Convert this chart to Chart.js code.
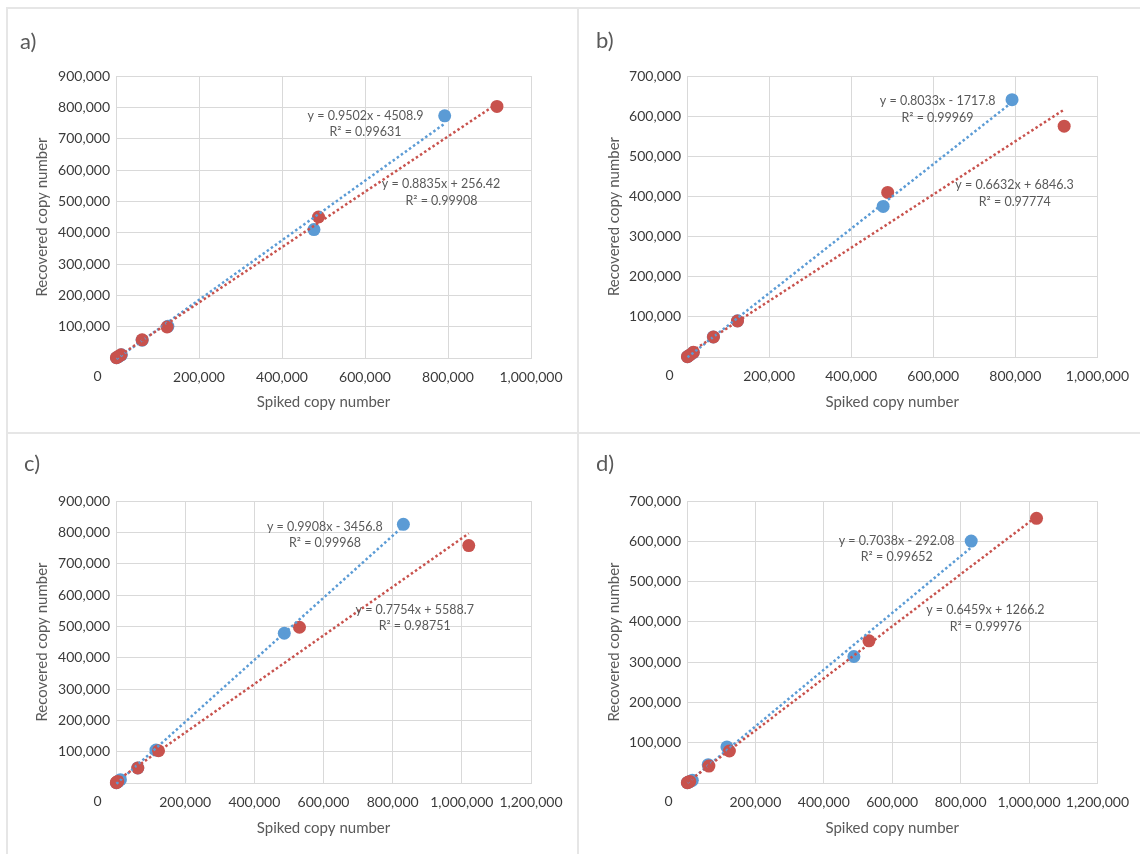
<!DOCTYPE html>
<html>
<head>
<meta charset="utf-8">
<script src="https://cdn.jsdelivr.net/npm/chart.js@4.4.1/dist/chart.umd.min.js"></script>
<style>
  html, body { margin: 0; padding: 0; background: #ffffff; }
  #wrap { position: relative; width: 1140px; height: 854px; overflow: hidden; background: #fff; }
  canvas { position: absolute; }
  .ln { position: absolute; background: #e6e6e6; z-index: 5; }
</style>
</head>
<body>
<div id="wrap">
  <canvas id="ca" width="577" height="432" style="left:0;top:0"></canvas>
  <canvas id="cb" width="561" height="432" style="left:579px;top:0"></canvas>
  <canvas id="cc" width="577" height="420" style="left:0;top:434px"></canvas>
  <canvas id="cd" width="561" height="420" style="left:579px;top:434px"></canvas>
  <div class="ln" style="left:6px;top:7px;width:1134px;height:2px"></div>
  <div class="ln" style="left:6px;top:7px;width:2px;height:847px"></div>
  <div class="ln" style="left:577px;top:7px;width:2px;height:847px"></div>
  <div class="ln" style="left:6px;top:432px;width:1134px;height:2px"></div>
</div>
<script>
// ---------- data ----------
// Panel a
const aBlueX = [792000, 477000, 125000, 63000, 13000, 6000, 1200];
const aBlueY = [773000, 410000, 101000, 57000, 10000, 4000, 800];
const aRedX  = [918000, 488000, 123000, 63000, 12000, 6000, 1000];
const aRedY  = [803000, 450000, 99000, 58000, 10000, 5000, 900];
const aFit   = { blue: [0.9502, -4508.9], red: [0.8835, 256.42] };
const aText  = { blue: ['y = 0.9502x - 4508.9', 'R² = 0.99631'], red: ['y = 0.8835x + 256.42', 'R² = 0.99908'] };

// Panel b
const bBlueX = [792000, 478000, 123000, 64000, 15000, 7000, 1200];
const bBlueY = [641000, 375000, 90000, 50000, 11000, 5000, 800];
const bRedX  = [919000, 489000, 123000, 64500, 15500, 7000, 1000];
const bRedY  = [575000, 410000, 89700, 49800, 11600, 5000, 900];
const bFit   = { blue: [0.8033, -1717.8], red: [0.6632, 6846.3] };
const bText  = { blue: ['y = 0.8033x - 1717.8', 'R² = 0.99969'], red: ['y = 0.6632x + 6846.3', 'R² = 0.97774'] };

// Panel c
const cBlueX = [831000, 486600, 115500, 63000, 12800, 6000, 1200];
const cBlueY = [825600, 478000, 105000, 48000, 10600, 4500, 800];
const cRedX  = [1020000, 530500, 123000, 63000, 5000, 2500, 1000];
const cRedY  = [757600, 497000, 103000, 47800, 5000, 2500, 900];
const cFit   = { blue: [0.9908, -3456.8], red: [0.7754, 5588.7] };
const cText  = { blue: ['y = 0.9908x - 3456.8', 'R² = 0.99968'], red: ['y = 0.7754x + 5588.7', 'R² = 0.98751'] };

// Panel d
const dBlueX = [831000, 488000, 116700, 62000, 15500, 7000, 1200];
const dBlueY = [600600, 314000, 89500, 45600, 6600, 3000, 800];
const dRedX  = [1022000, 532000, 124000, 64000, 8000, 4000, 1000];
const dRedY  = [657000, 353000, 79500, 42000, 4000, 2000, 900];
const dFit   = { blue: [0.7038, -292.08], red: [0.6459, 1266.2] };
const dText  = { blue: ['y = 0.7038x - 292.08', 'R² = 0.99652'], red: ['y = 0.6459x + 1266.2', 'R² = 0.99976'] };

// Ticks
const xTickValues1M   = [0, 200000, 400000, 600000, 800000, 1000000];
const xTickLabels1M   = ['0', '200,000', '400,000', '600,000', '800,000', '1,000,000'];
const xTickValues1_2M = [0, 200000, 400000, 600000, 800000, 1000000, 1200000];
const xTickLabels1_2M = ['0', '200,000', '400,000', '600,000', '800,000', '1,000,000', '1,200,000'];
const yTickValues900k = [0, 100000, 200000, 300000, 400000, 500000, 600000, 700000, 800000, 900000];
const yTickLabels900k = ['', '100,000', '200,000', '300,000', '400,000', '500,000', '600,000', '700,000', '800,000', '900,000'];
const yTickValues700k = [0, 100000, 200000, 300000, 400000, 500000, 600000, 700000];
const yTickLabels700k = ['', '100,000', '200,000', '300,000', '400,000', '500,000', '600,000', '700,000'];

const panelLetters = ['a)', 'b)', 'c)', 'd)'];
const xTitle = 'Spiked copy number';
const yTitle = 'Recovered copy number';

// ---------- styles / layout ----------
const BLUE = '#5B9BD5';
const RED = '#C8524D';
const TICK_FONT = { family: 'Lato', size: 14 };
const TITLE_FONT = { family: 'Lato', size: 15 };
const TICK_COLOR = '#3b3b3b';
const TEXT_GRAY = '#595959';
const GRID = '#d9d9d9';
const TICK_PAD_X = 11;

function pts(xs, ys) { return xs.map((x, i) => ({ x: x, y: ys[i] })); }
function trend(xs, fit) {
  const lo = Math.min(...xs), hi = Math.max(...xs);
  return [{ x: lo, y: fit[0] * lo + fit[1] }, { x: hi, y: fit[0] * hi + fit[1] }];
}

function makeChart(id, cfg) {
  const labelPlugin = {
    id: 'labels_' + id,
    afterDraw(chart) {
      const ctx = chart.ctx;
      const ca = chart.chartArea;
      ctx.save();
      // panel letter
      ctx.fillStyle = TEXT_GRAY;
      ctx.font = '22px Lato';
      ctx.textAlign = 'left';
      ctx.textBaseline = 'middle';
      ctx.fillText(cfg.letter, cfg.letterPos[0], cfg.letterPos[1]);
      // equations
      ctx.font = '12.5px Lato';
      ctx.textAlign = 'center';
      ctx.fillStyle = TEXT_GRAY;
      ['blue', 'red'].forEach(k => {
        const p = cfg.eqPos[k];
        ctx.fillText(cfg.text[k][0], p[0], p[1]);
        ctx.fillText(cfg.text[k][1], p[2], p[3]);
      });
      // the x "0" label sits left of the axis in the reference
      ctx.font = TICK_FONT.size + 'px ' + TICK_FONT.family;
      ctx.fillStyle = TICK_COLOR;
      ctx.textAlign = 'center';
      ctx.textBaseline = 'top';
      ctx.fillText(cfg.xLabels[0], ca.left + cfg.zeroOffset, ca.bottom + TICK_PAD_X);
      ctx.restore();
    }
  };

  return new Chart(document.getElementById(id), {
    type: 'scatter',
    data: {
      datasets: [
        { type: 'line', data: trend(cfg.redX, cfg.fit.red), borderColor: RED, borderWidth: 2.5,
          borderDash: [2.5, 2.5], pointRadius: 0, fill: false, order: 0, clip: false },
        { type: 'line', data: trend(cfg.blueX, cfg.fit.blue), borderColor: BLUE, borderWidth: 2.5,
          borderDash: [2.5, 2.5], pointRadius: 0, fill: false, order: 1, clip: false },
        { data: pts(cfg.redX, cfg.redY), backgroundColor: RED, borderWidth: 0, pointRadius: 6.5, pointHoverRadius: 6.5, order: 2, clip: false },
        { data: pts(cfg.blueX, cfg.blueY), backgroundColor: BLUE, borderWidth: 0, pointRadius: 6.5, pointHoverRadius: 6.5, order: 3, clip: false }
      ]
    },
    options: {
      responsive: false,
      animation: false,
      events: [],
      layout: { padding: { left: 0, top: cfg.padTop, right: cfg.padRight, bottom: 0 } },
      plugins: { legend: { display: false }, tooltip: { enabled: false } },
      scales: {
        x: {
          type: 'linear', min: cfg.xValues[0], max: cfg.xValues[cfg.xValues.length - 1],
          afterBuildTicks: s => { s.ticks = cfg.xValues.map(v => ({ value: v })); },
          afterFit: s => { s.height = cfg.xHeight; },
          ticks: { callback: (v, i) => (i === 0 ? '' : cfg.xLabels[i]), font: TICK_FONT, color: TICK_COLOR,
                   padding: TICK_PAD_X, maxRotation: 0, autoSkip: false },
          grid: { color: GRID, lineWidth: 1, drawTicks: false },
          border: { display: true, color: GRID, width: 1 },
          title: { display: true, text: xTitle, font: TITLE_FONT, color: TEXT_GRAY,
                   padding: { top: 0, bottom: cfg.xTitlePad } }
        },
        y: {
          type: 'linear', min: cfg.yValues[0], max: cfg.yValues[cfg.yValues.length - 1],
          afterBuildTicks: s => { s.ticks = cfg.yValues.map(v => ({ value: v })); },
          afterFit: s => { s.width = cfg.yWidth; },
          ticks: { callback: (v, i) => cfg.yLabels[i], font: TICK_FONT, color: TICK_COLOR, padding: 6, autoSkip: false },
          grid: { color: GRID, lineWidth: 1, drawTicks: false },
          border: { display: true, color: GRID, width: 1 },
          title: { display: true, text: yTitle, font: TITLE_FONT, color: TEXT_GRAY,
                   padding: { top: cfg.yTitlePad, bottom: 0 } }
        }
      }
    },
    plugins: [labelPlugin]
  });
}

makeChart('ca', {
  blueX: aBlueX, blueY: aBlueY, redX: aRedX, redY: aRedY, fit: aFit, text: aText,
  xValues: xTickValues1M, xLabels: xTickLabels1M, yValues: yTickValues900k, yLabels: yTickLabels900k,
  padTop: 76, padRight: 46, xHeight: 74, yWidth: 116, yTitlePad: 33.5, xTitlePad: 21.3, zeroOffset: -18.5,
  letter: panelLetters[0], letterPos: [20, 41.5],
  eqPos: { blue: [365.5, 116, 365.5, 132], red: [441, 184, 441.5, 201] }
});
makeChart('cb', {
  blueX: bBlueX, blueY: bBlueY, redX: bRedX, redY: bRedY, fit: bFit, text: bText,
  xValues: xTickValues1M, xLabels: xTickLabels1M, yValues: yTickValues700k, yLabels: yTickLabels700k,
  padTop: 76, padRight: 38, xHeight: 75, yWidth: 108, yTitlePad: 26.3, xTitlePad: 21.3, zeroOffset: -17.5,
  letter: panelLetters[1], letterPos: [17, 41],
  eqPos: { blue: [358.7, 100.7, 358.5, 117.7], red: [435.5, 185, 435.8, 202] }
});
makeChart('cc', {
  blueX: cBlueX, blueY: cBlueY, redX: cRedX, redY: cRedY, fit: cFit, text: cText,
  xValues: xTickValues1_2M, xLabels: xTickLabels1_2M, yValues: yTickValues900k, yLabels: yTickLabels900k,
  padTop: 67, padRight: 46, xHeight: 71, yWidth: 116, yTitlePad: 33.5, xTitlePad: 16.7, zeroOffset: -18.5,
  letter: panelLetters[2], letterPos: [24, 30],
  eqPos: { blue: [324.8, 93, 325, 109], red: [414.7, 176, 414.7, 192] }
});
makeChart('cd', {
  blueX: dBlueX, blueY: dBlueY, redX: dRedX, redY: dRedY, fit: dFit, text: dText,
  xValues: xTickValues1_2M, xLabels: xTickLabels1_2M, yValues: yTickValues700k, yLabels: yTickLabels700k,
  padTop: 67, padRight: 38, xHeight: 71, yWidth: 108, yTitlePad: 26.3, xTitlePad: 16.7, zeroOffset: -18.5,
  letter: panelLetters[3], letterPos: [17, 29.5],
  eqPos: { blue: [317.6, 106.7, 317.8, 122.7], red: [406.4, 176, 406.7, 192.7] }
});
</script>
</body>
</html>
